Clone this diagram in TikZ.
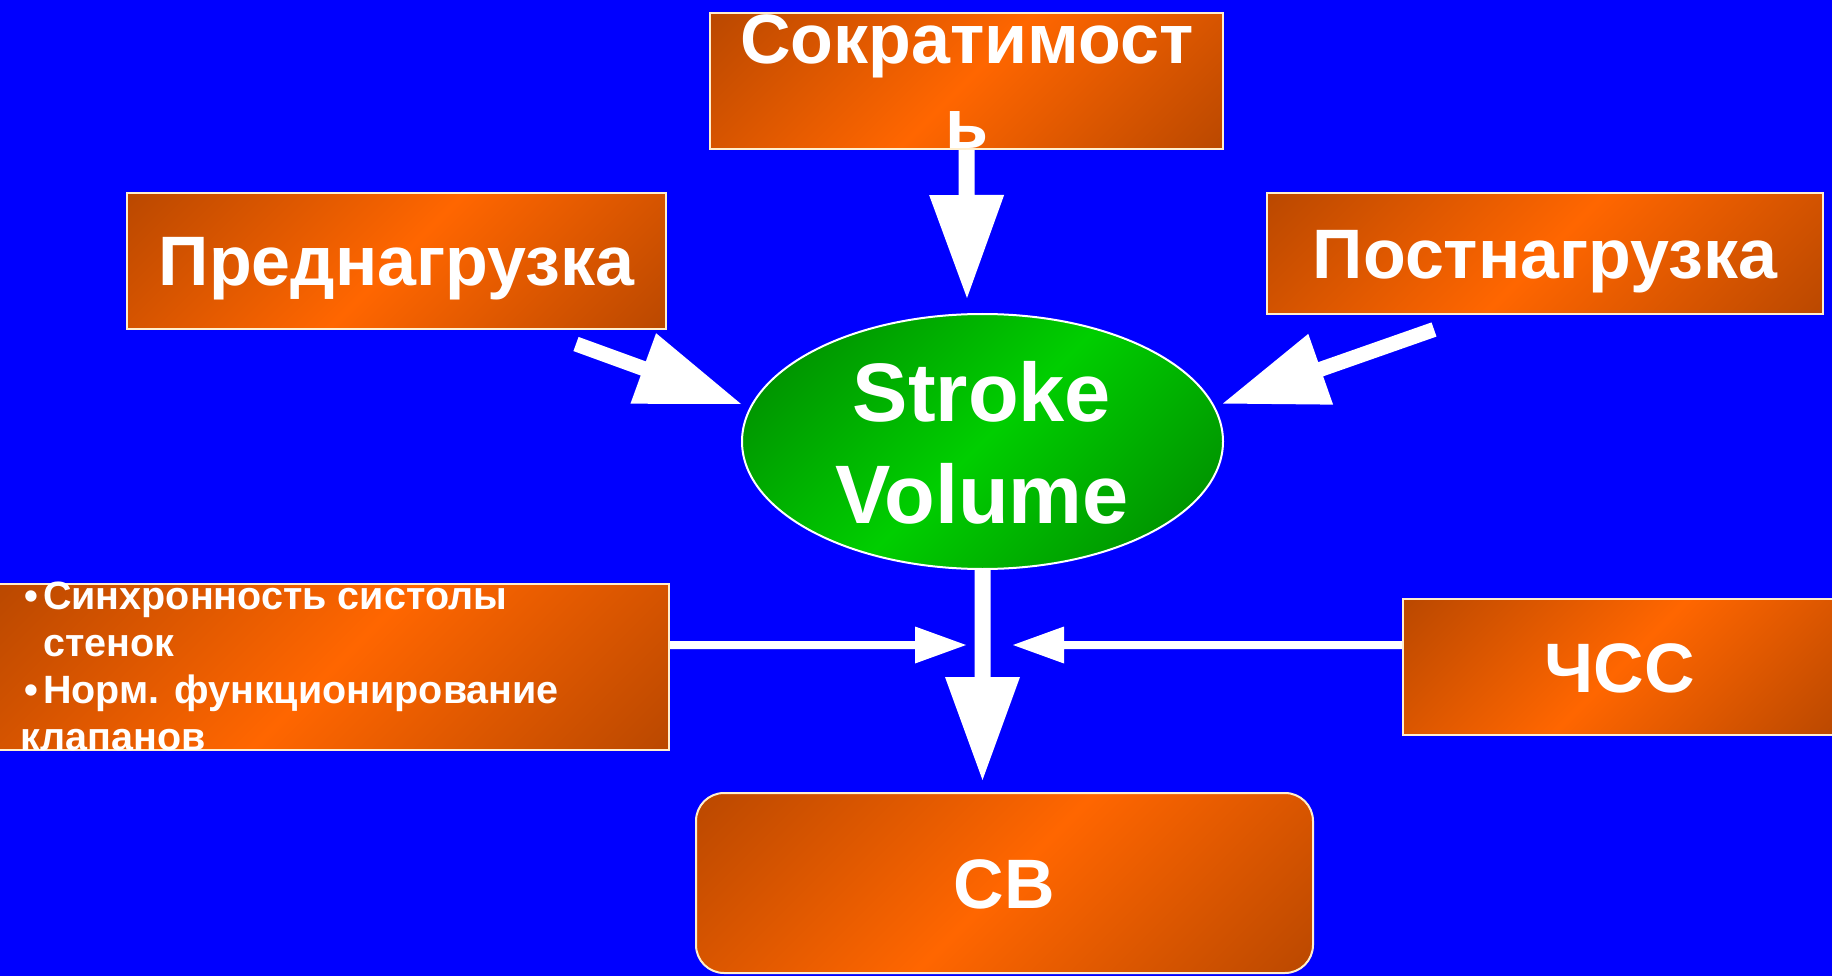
\documentclass[tikz,border=0pt]{standalone}
\usepackage{fontspec}
\setmainfont{Liberation Sans}
\usetikzlibrary{calc,shapes.geometric}
\definecolor{bgblue}{RGB}{0,0,255}
\definecolor{odark}{RGB}{186,72,0}
\definecolor{obright}{RGB}{255,102,0}
\definecolor{gdark}{RGB}{0,150,0}
\definecolor{gbright}{RGB}{0,206,0}
\definecolor{edgecream}{RGB}{255,238,205}
\newcommand\myblockarrow[5]{%
  \coordinate (ab) at ($(#2)!#5!(#1)$);
  \fill[arrowfill] ($(#1)!#3!-90:(#2)$) -- ($(ab)!#3!-90:(#2)$) -- ($(ab)!#4!-90:(#2)$) -- (#2)
    -- ($(ab)!#4!90:(#2)$) -- ($(ab)!#3!90:(#2)$) -- ($(#1)!#3!90:(#2)$) -- cycle;
}
\tikzset{
  diagfill/.style n args={3}{path picture={%
    \pgfpointdiff{\pgfpointanchor{path picture bounding box}{south west}}{\pgfpointanchor{path picture bounding box}{north east}}%
    \pgfgetlastxy{\dwx}{\dwy}%
    \pgfmathsetlengthmacro{\dhs}{(\dwx+\dwy)*#3}%
    \shade[transform canvas={rotate around={45:(path picture bounding box.center)}},
      top color=#1, bottom color=#1, middle color=#2]
      ($(path picture bounding box.center)+(-\dhs,-\dhs)$) rectangle ($(path picture bounding box.center)+(\dhs,\dhs)$);
  }},
  obox/.style={draw=edgecream, line width=2pt, inner sep=0pt, diagfill={odark}{obright}{0.35355},
    text=white, font=\bfseries\fontsize{70}{85}\selectfont, text height=50pt, text depth=0pt},
  lbl/.style={text=white, inner sep=0pt, font=\bfseries\fontsize{70}{85}\selectfont},
  arrowfill/.style={fill=white},
}
\begin{document}
\begin{tikzpicture}[x=1pt,y=-1pt]
\useasboundingbox (0,0) rectangle (1832,976);
\fill[bgblue] (0,0) rectangle (1832,976);

% boxes
\node[obox, minimum width=513pt, minimum height=136pt] (sokr) at (966.5,81) {};
\node[lbl, anchor=north, align=center] (sokrtext) at (967,8.3) {\rule{0pt}{55pt}Сократимост\\ь};
\node[obox, minimum width=539pt, minimum height=136pt] (pred) at (396.5,261) {Преднагрузка};
\node[obox, minimum width=556pt, minimum height=121pt] (post) at (1545,253.5) {Постнагрузка};
\node[ellipse, draw=white, line width=2pt, inner sep=0pt, minimum width=481pt, minimum height=255pt,
  diagfill={gdark}{gbright}{0.2615}] (sv) at (982.5,441.5) {};
\node[lbl, font=\bfseries\fontsize{83}{102}\selectfont, anchor=north, align=center] (svtext) at (982,356)
  {\rule{0pt}{65pt}Stroke\\Volume};
\node[obox, minimum width=671pt, minimum height=166pt] (bul) at (333.5,667) {};
\node[lbl, font=\bfseries\fontsize{39.5}{47}\selectfont, anchor=north west, align=left] (bultext) at (20,579)
  {\rule{0pt}{30pt}\makebox[23pt][l]{\hspace*{4pt}•}Синхронность систолы\\
   \hspace*{23pt}стенок\\
   \makebox[23pt][l]{\hspace*{4pt}•}Норм. функционирование\\
   клапанов};
\node[obox, minimum width=433pt, minimum height=136pt] (chss) at (1619.5,667) {ЧСС};
\node[obox, rounded corners=28pt, minimum width=617pt, minimum height=180pt] (cb) at (1004.5,883) {СВ};

% arrows
\coordinate (sokrtip) at (967,298);
\myblockarrow{sokr.south}{sokrtip}{8pt}{37.5pt}{103pt}
\coordinate (predtail) at (576,344);
\coordinate (predtip) at (741,404);
\myblockarrow{predtail}{predtip}{7.5pt}{37.5pt}{104pt}
\coordinate (posttail) at (1434,329.5);
\coordinate (posttip) at (1223,403.5);
\myblockarrow{posttail}{posttip}{7.5pt}{37.5pt}{103.5pt}
\coordinate (cbtip) at (982.5,780);
\myblockarrow{sv.south}{cbtip}{8pt}{37.5pt}{103pt}
\coordinate (lefttip) at (966,645);
\coordinate (lefttail) at (bul.east |- lefttip);
\myblockarrow{lefttail}{lefttip}{4pt}{18.5pt}{51pt}
\coordinate (righttip) at (1013,645);
\coordinate (righttail) at (chss.west |- righttip);
\myblockarrow{righttail}{righttip}{4pt}{18.5pt}{51pt}
\end{tikzpicture}
\end{document}
